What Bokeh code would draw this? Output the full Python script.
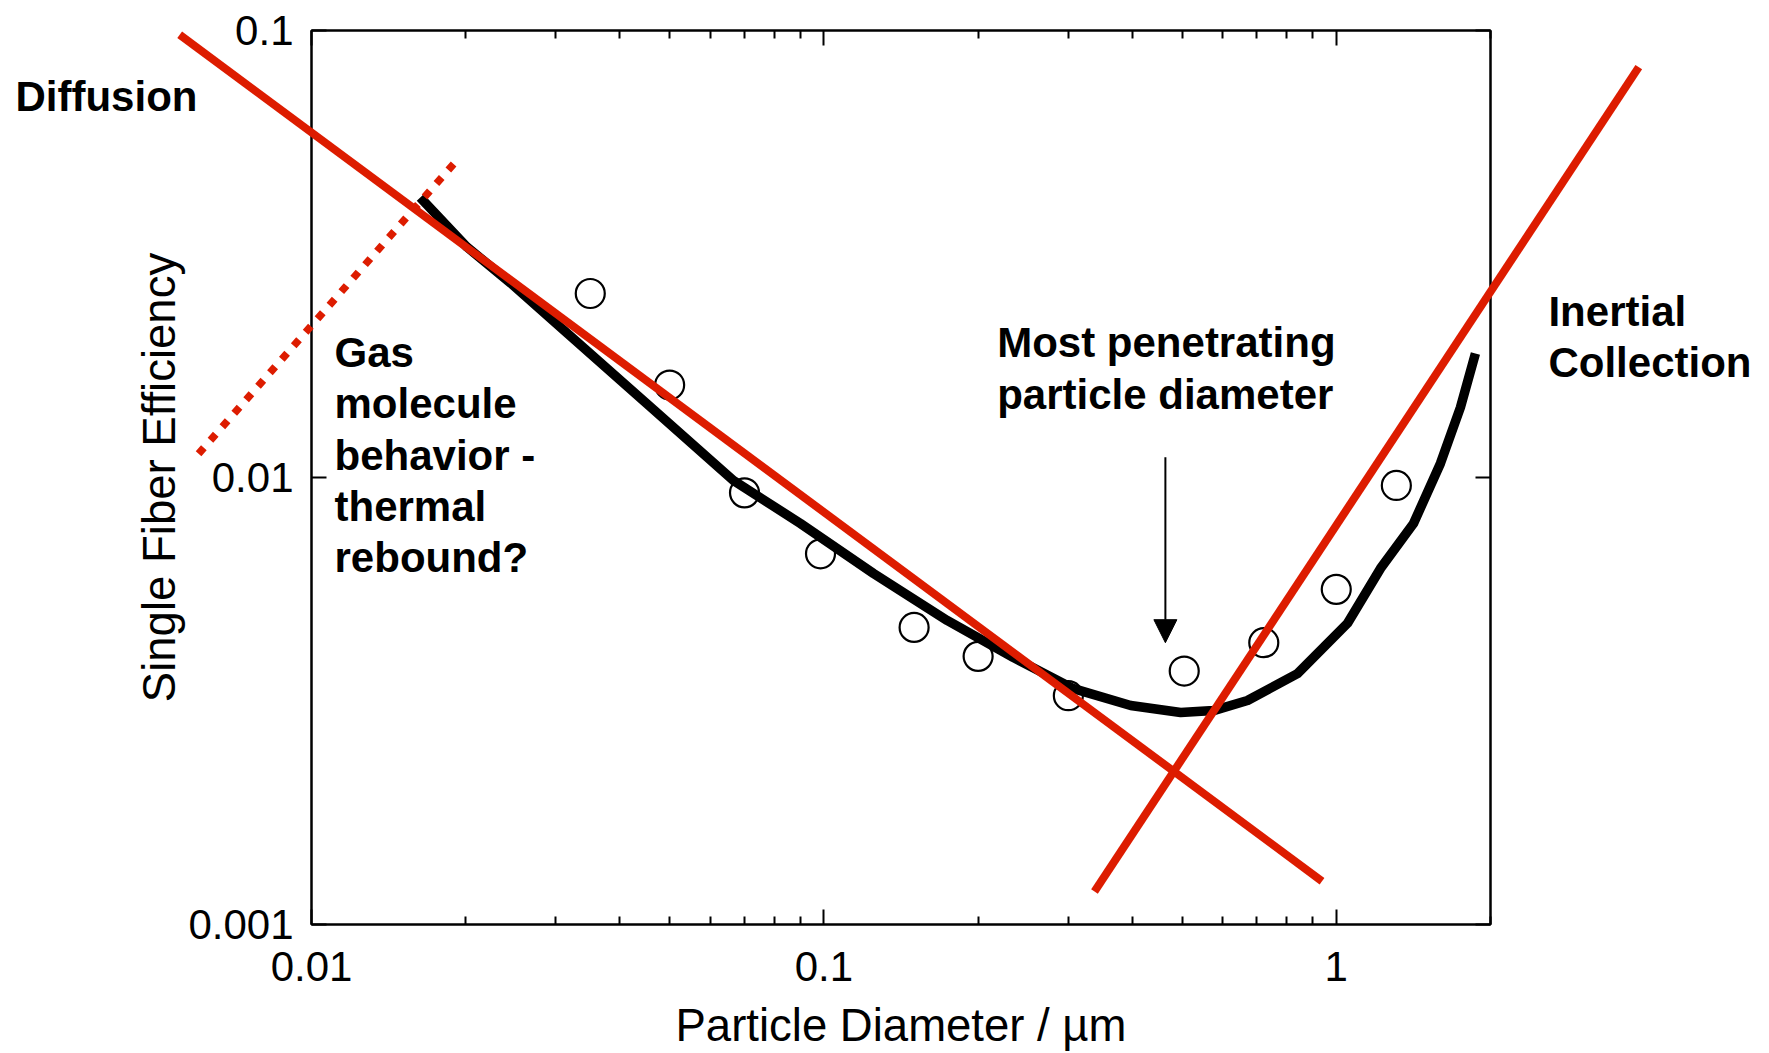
from bokeh.plotting import figure
from bokeh.models import LogAxis, FixedTicker, Arrow, NormalHead, Range1d
from bokeh.core.properties import value
from bokeh.embed import file_html
from bokeh.resources import INLINE

# ---------------- data ----------------
x_ticks = [0.01, 0.1, 1]
x_tick_labels = ["0.01", "0.1", "1"]
x_minor_ticks = [0.02, 0.03, 0.04, 0.05, 0.06, 0.07, 0.08, 0.09,
                 0.2, 0.3, 0.4, 0.5, 0.6, 0.7, 0.8, 0.9, 2]
y_ticks = [0.001, 0.01, 0.1]
y_tick_labels = ["0.001", "0.01", "0.1"]

# measured single fiber efficiency (open circles)
meas_d = [0.035, 0.05, 0.07, 0.0985, 0.15, 0.2, 0.3, 0.505, 0.722, 1.0, 1.31]
meas_eff = [0.0258, 0.0161, 0.00924, 0.00675, 0.00462, 0.00398, 0.00325,
            0.00369, 0.00427, 0.00562, 0.0096]

# theory curve (thick black)
curve_d = [0.0163, 0.0201, 0.0245, 0.0316, 0.0452, 0.0666, 0.090, 0.125, 0.174,
           0.234, 0.307, 0.397, 0.497, 0.576, 0.671, 0.840, 1.052, 1.220, 1.415,
           1.597, 1.747, 1.869]
curve_eff = [0.0423, 0.0328, 0.0272, 0.0210, 0.0146, 0.00985, 0.00789, 0.0061,
             0.00479, 0.00396, 0.00337, 0.00309, 0.00298, 0.00301, 0.00317,
             0.00364, 0.00472, 0.00626, 0.00789, 0.01075, 0.01434, 0.01894]

# asymptotes (red)
diff_d = [0.00553, 0.938]
diff_eff = [0.0978, 0.00125]
inert_d = [0.3374, 3.894]
inert_eff = [0.001185, 0.0828]
rebound_d = [0.00602, 0.01895]
rebound_eff = [0.0113, 0.0503]

# most penetrating particle arrow
mpp_d = 0.464
mpp_eff = [0.0111, 0.00427]

# annotation texts (left x, baseline y in data coordinates)
note_text = ["Diffusion", "Gas", "molecule", "behavior -", "thermal", "rebound?",
             "Most penetrating", "particle diameter", "Inertial", "Collection"]
note_x = [0.002644, 0.01109, 0.01109, 0.01109, 0.01109, 0.01109,
          0.2179, 0.2179, 2.595, 2.595]
note_y = [0.0710, 0.01906, 0.01463, 0.01122, 0.008609, 0.006621,
          0.02001, 0.0153, 0.02351, 0.01808]

RED = "#dd1c00"
FONT = "Liberation Sans"

# ---------------- figure ----------------
W, H = 1769, 1053
p = figure(width=W, height=H, x_axis_type="log", y_axis_type="log",
           x_range=Range1d(0.01, 2), y_range=Range1d(0.001, 0.1),
           output_backend="svg", toolbar_location=None,
           min_border_left=311, min_border_right=279,
           min_border_top=30, min_border_bottom=129,
           background_fill_color="white", border_fill_color="white")
p.grid.visible = False
p.outline_line_color = "black"
p.outline_line_width = 2

xticker = FixedTicker(ticks=x_ticks, minor_ticks=x_minor_ticks)
yticker = FixedTicker(ticks=y_ticks, minor_ticks=[])

p.add_layout(LogAxis(), "above")
p.add_layout(LogAxis(), "right")

for ax in p.xaxis:
    ax.ticker = xticker
for ax in p.yaxis:
    ax.ticker = yticker
    ax.minor_tick_line_color = None

for ax in list(p.xaxis) + list(p.yaxis):
    ax.axis_line_color = "black"
    ax.axis_line_width = 2
    ax.major_tick_line_color = "black"
    ax.major_tick_line_width = 2
    ax.major_tick_in = 15
    ax.major_tick_out = 0
    ax.minor_tick_in = 8
    ax.minor_tick_out = 0
    ax.minor_tick_line_width = 2
    ax.major_label_text_font = FONT
    ax.major_label_text_color = "black"
    ax.axis_label_text_font = FONT
    ax.axis_label_text_font_style = "normal"
    ax.axis_label_text_color = "black"

for ax in p.xaxis:
    ax.minor_tick_line_color = "black"

# bottom / left axes with labels
bx = p.below[0]
ly = p.left[0]
bx.major_label_overrides = dict(zip(x_ticks, x_tick_labels))
ly.major_label_overrides = dict(zip(y_ticks, y_tick_labels))
bx.major_label_text_font_size = "42px"
ly.major_label_text_font_size = "42px"
bx.major_label_standoff = 27
ly.major_label_standoff = 18
bx.axis_label = "Particle Diameter / µm"
ly.axis_label = "Single Fiber Efficiency"
bx.axis_label_text_font_size = "45.5px"
ly.axis_label_text_font_size = "45.5px"
bx.axis_label_standoff = 16
ly.axis_label_standoff = 0

# top / right axes: ticks only
for ax in (p.above[0], p.right[0]):
    ax.major_label_text_font_size = "6px"
    ax.major_label_text_color = None
    ax.major_label_standoff = 0

# ---------------- marks ----------------
p.scatter(meas_d, meas_eff, marker="circle", size=29, fill_color="white",
          line_color="black", line_width=2.2)

p.line(curve_d, curve_eff, line_color="black", line_width=9.5,
       line_join="round", line_cap="butt")

for xs, ys in ((diff_d, diff_eff), (inert_d, inert_eff)):
    r = p.line(xs, ys, line_color=RED, line_width=8, line_cap="butt")
    r.level = "overlay"

r = p.line(rebound_d, rebound_eff, line_color=RED, line_width=7.5,
           line_dash="8 10", line_cap="butt")
r.level = "overlay"

p.add_layout(Arrow(end=NormalHead(size=23, fill_color="black", line_color="black",
                                  line_width=1),
                   x_start=mpp_d, y_start=mpp_eff[0], x_end=mpp_d, y_end=mpp_eff[1],
                   line_color="black", line_width=2))

t = p.text(x=note_x, y=note_y, text=note_text, text_font=value(FONT),
           text_font_style="bold", text_font_size=value("42px"),
           text_color="black", text_align="left", text_baseline="alphabetic")
t.level = "overlay"

open("out.html", "w").write(file_html(p, INLINE))
